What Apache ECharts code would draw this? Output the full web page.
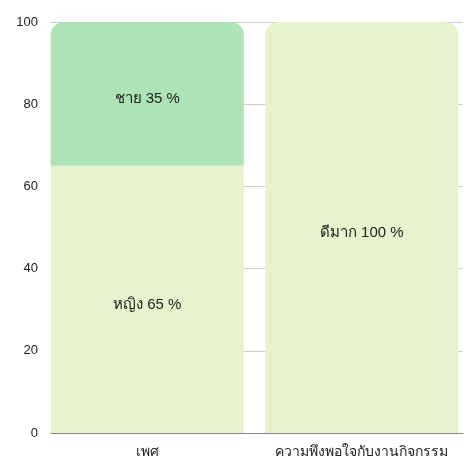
<!DOCTYPE html>
<html>
<head>
<meta charset="utf-8">
<script src="https://cdn.jsdelivr.net/npm/echarts@6/dist/echarts.min.js"></script>
<style>
  html, body { margin: 0; padding: 0; background: #fff; }
  #chart { width: 469px; height: 459px; }
</style>
</head>
<body>
<div id="chart"></div>
<script>
// 数据
const categories = ['เพศ', 'ความพึงพอใจกับงานกิจกรรม'];
const femaleVals = [65, '-'];
const maleVals = [35, '-'];
const veryGoodVals = ['-', 100];
const yTicks = { min: 0, max: 100, interval: 20 };

const chart = echarts.init(document.getElementById('chart'));

const labelStyle = {
  show: true,
  position: 'inside',
  color: '#222',
  fontSize: 15,
  offset: [0, 5],
  formatter: p => `${p.seriesName} ${p.value} %`
};

chart.setOption({
  backgroundColor: '#fff',
  animation: false,
  textStyle: { fontFamily: 'sans-serif' },
  grid: [
    { left: 51, right: 6, top: 22, bottom: 26 },
    // 柱子所在的网格稍宽，与参考图对齐
    { left: 40, right: -4, top: 22, bottom: 25 }
  ],
  xAxis: [
    {
      gridIndex: 0, type: 'category', data: categories,
      axisLine: { show: true, lineStyle: { color: '#888' } },
      axisTick: { show: false }, axisLabel: { show: false }
    },
    {
      gridIndex: 1, type: 'category', data: categories,
      axisLine: { show: false }, axisTick: { show: false },
      axisLabel: { color: '#222', fontSize: 14, margin: 12, interval: 0 }
    }
  ],
  yAxis: [
    {
      gridIndex: 0, type: 'value', ...yTicks,
      axisLine: { show: false }, axisTick: { show: false },
      axisLabel: { color: '#222', fontSize: 13, margin: 13 },
      splitLine: { lineStyle: { color: '#ccc' } }
    },
    {
      gridIndex: 1, type: 'value', ...yTicks, show: false
    }
  ],
  series: [
    {
      name: 'หญิง', type: 'bar', stack: 'a', xAxisIndex: 1, yAxisIndex: 1,
      data: femaleVals, barCategoryGap: '10%', z: 3,
      itemStyle: { color: '#e6f3cd' }, label: labelStyle
    },
    {
      name: 'ชาย', type: 'bar', stack: 'a', xAxisIndex: 1, yAxisIndex: 1,
      data: maleVals, z: 3,
      itemStyle: { color: '#ade3b7', borderRadius: [13, 13, 0, 0] }, label: labelStyle
    },
    {
      name: 'ดีมาก', type: 'bar', stack: 'a', xAxisIndex: 1, yAxisIndex: 1,
      data: veryGoodVals, z: 3,
      itemStyle: { color: '#e6f3cd', borderRadius: [13, 13, 0, 0] }, label: labelStyle
    }
  ]
});
</script>
</body>
</html>
